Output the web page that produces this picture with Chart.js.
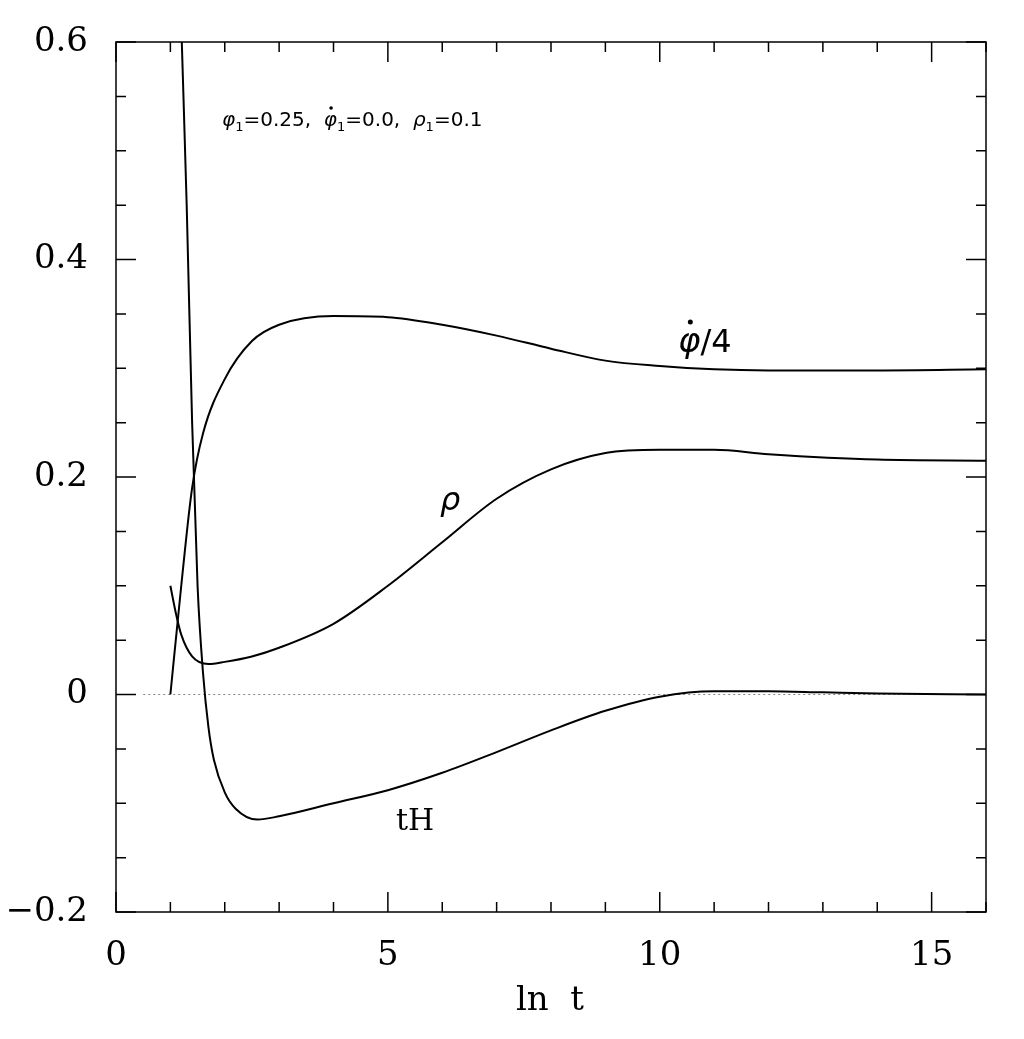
<!DOCTYPE html>
<html><head><meta charset="utf-8">
<script src="https://cdn.jsdelivr.net/npm/chart.js@4"></script>
<style>body{margin:0;background:#fff}#w{width:1024px;height:1039px}</style>
</head><body><div id="w"><canvas id="c"></canvas></div>
<script>
const tH_x = [1.21,1.3,1.4,1.5,1.6,1.7,1.8,2.0,2.2,2.6,3,4,5,6,7,8,9,10,11,12,13,14,16];
const tH_y = [0.6,0.45,0.25,0.1,0.02,-0.03,-0.06,-0.09,-0.105,-0.115,-0.112,-0.1,-0.088,-0.072,-0.053,-0.033,-0.015,-0.002,0.003,0.003,0.002,0.001,0];
const phi_x = [1.0,1.2,1.4,1.6,2,2.5,3,4,5,6,7,8,9,10,11,12,14,16];
const phi_y = [0,0.1,0.19,0.24,0.29,0.325,0.34,0.348,0.347,0.34,0.33,0.318,0.307,0.302,0.299,0.298,0.298,0.299];
const rho_x = [1.0,1.1,1.2,1.4,1.7,2,2.5,3,4,5,6,7,8,9,10,11,12,14,16];
const rho_y = [0.1,0.075,0.055,0.035,0.028,0.03,0.035,0.043,0.065,0.1,0.14,0.18,0.207,0.222,0.225,0.225,0.221,0.216,0.215];
const zero_x = [0.5,16];
const zero_y = [0,0];
const xTicks = [0,5,10,15];
const yTicks = [-0.2,0,0.2,0.4,0.6];
const pts=(xs,ys)=>xs.map((x,i)=>({x,y:ys[i]}));
const ds=(d,extra)=>Object.assign({data:d,showLine:true,pointRadius:0,borderColor:'#000',borderWidth:2,tension:0.4,cubicInterpolationMode:'monotone'},extra||{});
const FONT='"DejaVu Serif", "Liberation Serif", serif';
const SANS='"DejaVu Sans", sans-serif';
function runs(c,x,y,items){
 for(const it of items){c.font=it.f;
  const w=c.measureText(it.t).width;
  c.fillText(it.t,x,y+(it.dy||0));
  if(it.dot){c.beginPath();c.arc(x+w*0.55,y-it.dot,it.r||2,0,Math.PI*2);c.fill();}
  x+=w+(it.gap||0);}
}
const deco={id:'deco',afterDraw(ch){
 const c=ch.ctx,a=ch.chartArea,xs=ch.scales.x,ys=ch.scales.y;
 c.save();c.strokeStyle='#000';c.lineWidth=1.5;
 c.strokeRect(a.left,a.top,a.right-a.left,a.bottom-a.top);
 c.beginPath();
 for(let v=0;v<=16;v++){const p=xs.getPixelForValue(v),L=v%5==0?20:10;
  c.moveTo(p,a.bottom);c.lineTo(p,a.bottom-L);c.moveTo(p,a.top);c.lineTo(p,a.top+L);}
 for(let k=-4;k<=12;k++){const v=k*0.05,p=ys.getPixelForValue(v),L=k%4==0?20:10;
  c.moveTo(a.left,p);c.lineTo(a.left+L,p);c.moveTo(a.right,p);c.lineTo(a.right-L,p);}
 c.stroke();
 c.fillStyle='#000';c.textAlign='center';c.textBaseline='alphabetic';
 c.font='34px '+FONT;c.fillText('ln  t',550,1010);
 c.font='30px '+FONT;c.fillText('tH',415,830);
 c.textAlign='left';
 runs(c,440,510,[{t:'ρ',f:'italic 32px '+SANS}]);
 runs(c,678,352,[{t:'φ',f:'italic 34px '+SANS,dot:30,r:2.5},{t:'/4',f:'32px '+SANS}]);
 const F='20px '+SANS,I='italic 20px '+SANS,S='13px '+SANS;
 runs(c,222,126,[{t:'φ',f:I},{t:'1',f:S,dy:5},{t:'=0.25,  ',f:F},
  {t:'φ',f:I,dot:18,r:1.8},{t:'1',f:S,dy:5},{t:'=0.0,  ',f:F},
  {t:'ρ',f:I},{t:'1',f:S,dy:5},{t:'=0.1',f:F}]);
 c.restore();}};
new Chart(document.getElementById('c'),{type:'scatter',
 data:{datasets:[ds(pts(tH_x,tH_y)),ds(pts(phi_x,phi_y)),ds(pts(rho_x,rho_y)),
  ds(pts(zero_x,zero_y),{borderColor:'#888',borderWidth:1,borderDash:[2,3],tension:0})]},
 options:{responsive:true,maintainAspectRatio:false,animation:false,
  layout:{padding:{left:0,right:38,top:42,bottom:0}},
  plugins:{legend:{display:false},tooltip:{enabled:false}},
  scales:{
   x:{type:'linear',min:0,max:16,grid:{display:false},border:{display:false},
    afterFit:s=>{s.height=127;},
    afterBuildTicks:s=>{s.ticks=xTicks.map(v=>({value:v}));},
    ticks:{color:'#000',padding:16,font:{size:34,family:FONT},maxRotation:0,callback:v=>String(v)}},
   y:{type:'linear',min:-0.2,max:0.6,grid:{display:false},border:{display:false},
    afterFit:s=>{s.width=116;},
    afterBuildTicks:s=>{s.ticks=yTicks.map(v=>({value:v}));},
    ticks:{color:'#000',padding:20,font:{size:34,family:FONT},callback:v=>Math.abs(v)<1e-9?'0':(v<0?'−'+Math.abs(v).toFixed(1):v.toFixed(1))}}
  }},plugins:[deco]});
</script></body></html>
